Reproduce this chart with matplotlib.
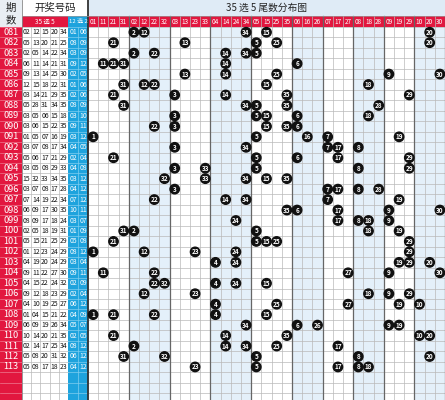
import matplotlib
matplotlib.use("Agg")
import matplotlib.pyplot as plt
from matplotlib.patches import Rectangle, Circle

plt.rcParams['font.family'] = ['Noto Sans CJK SC', 'DejaVu Sans']

# draw data
periods = ["081", "082", "083", "084", "085", "086", "087", "088", "089", "090",
           "091", "092", "093", "094", "095", "096", "097", "098", "099", "100",
           "101", "102", "103", "104", "105", "106", "107", "108", "109", "110",
           "111", "112", "113"]
front = [
    [2, 12, 15, 20, 34], [5, 13, 20, 21, 25], [2, 5, 14, 22, 34], [6, 11, 14, 21, 31],
    [9, 13, 14, 25, 30], [12, 15, 18, 22, 31], [3, 14, 21, 29, 35], [5, 28, 31, 34, 35],
    [3, 5, 6, 15, 18], [3, 6, 15, 22, 35], [1, 5, 7, 16, 19], [3, 7, 8, 17, 34],
    [5, 6, 17, 21, 29], [3, 5, 8, 29, 33], [15, 32, 33, 34, 35], [3, 7, 8, 17, 28],
    [7, 14, 19, 22, 34], [6, 9, 17, 30, 35], [8, 9, 17, 18, 24], [2, 5, 18, 19, 31],
    [5, 15, 21, 25, 29], [1, 12, 23, 24, 29], [4, 19, 20, 24, 29], [9, 11, 22, 27, 30],
    [4, 15, 22, 24, 32], [9, 12, 18, 23, 29], [4, 10, 19, 25, 27], [1, 4, 15, 21, 22],
    [6, 9, 19, 26, 34], [10, 14, 20, 21, 35], [2, 14, 17, 25, 34], [5, 8, 20, 31, 32],
    [5, 8, 17, 18, 23]]
back = [
    [1, 6], [8, 9], [3, 9], [9, 12], [2, 5], [1, 6], [2, 6], [8, 9], [3, 10], [9, 11],
    [3, 12], [4, 5], [2, 4], [4, 8], [3, 12], [4, 12], [7, 12], [10, 11], [3, 7], [1, 9],
    [5, 8], [8, 12], [3, 4], [9, 11], [2, 9], [2, 4], [6, 12], [4, 9], [5, 7], [2, 5],
    [8, 12], [6, 12], [4, 12]]
tails = [1, 2, 3, 4, 5, 6, 7, 8, 9, 0]

RED = "#e2173f"
BLUE = "#1ea3dd"
LBLUE = "#e4f0fa"
GRID = "#b9b9b9"
DARK = "#333333"

W, H = 445, 400
fig = plt.figure(figsize=(4.45, 4.0), dpi=100)
ax = fig.add_axes([0, 0, 1, 1])
ax.set_xlim(0, W)
ax.set_ylim(H, 0)
ax.set_axis_off()

# column layout
groups = [[n for n in range(1, 36) if n % 10 == t] for t in tails]
dist_cols = [n for g in groups for n in g]
x_per, x_front, x_back, x_dist = 0, 22, 68, 88
fw = (x_back - x_front) / 5
bw = (x_dist - x_back) / 2
dw = (W - x_dist) / len(dist_cols)
y_title, y_head, y_rows = 0, 16, 27
rh = 10.46
n_rows = len(periods) + 3
col_x = {n: x_dist + (i + 0.5) * dw for i, n in enumerate(dist_cols)}

# group backgrounds
i0 = 0
for gi, g in enumerate(groups):
    if gi % 2 == 1:
        ax.add_patch(Rectangle((x_dist + i0 * dw, y_rows), len(g) * dw, H - y_rows,
                               color=LBLUE, lw=0, zorder=0))
    i0 += len(g)

# left column backgrounds
ax.add_patch(Rectangle((x_per, y_rows), x_front - x_per, H - y_rows, color=RED, lw=0))
ax.add_patch(Rectangle((x_back, y_head), x_dist - x_back, H - y_head, color=BLUE, lw=0))
ax.add_patch(Rectangle((x_front, y_head), x_back - x_front, y_rows - y_head, color=RED, lw=0))
ax.add_patch(Rectangle((x_dist, y_head), W - x_dist, y_rows - y_head, color=RED, lw=0))
ax.add_patch(Rectangle((x_dist, y_title), W - x_dist, y_head - y_title, color="#dfebf6", lw=0))
ax.add_patch(Rectangle((x_per, 0), x_front - x_per, y_rows, color="#e9eef3", lw=0))

# grid lines
for r in range(n_rows + 1):
    y = y_rows + r * rh
    ax.plot([x_front, x_back], [y, y], color=GRID, lw=0.5, zorder=1)
    ax.plot([x_dist, W], [y, y], color=GRID, lw=0.5, zorder=1)
    ax.plot([x_back, x_dist], [y, y], color="#7fcdef", lw=0.5, zorder=1)
    ax.plot([x_per, x_front], [y, y], color="#f07b92", lw=0.5, zorder=1)
for k in range(1, 5):
    x = x_front + k * fw
    ax.plot([x, x], [y_rows, H], color=GRID, lw=0.5, zorder=1)
ax.plot([x_back + bw] * 2, [y_rows, H], color="#7fcdef", lw=0.5, zorder=1)
i0 = 0
for g in groups:
    for k in range(len(g)):
        x = x_dist + (i0 + k) * dw
        ax.plot([x, x], [y_head, H], color=GRID, lw=0.5, zorder=1)
    i0 += len(g)
    x = x_dist + i0 * dw
    ax.plot([x, x], [y_head, H], color="#666666", lw=0.9, zorder=2)
ax.plot([x_dist, x_dist], [0, H], color=DARK, lw=1.3, zorder=3)
ax.plot([x_front, x_front], [0, H], color="#888888", lw=0.6, zorder=3)
ax.plot([x_front, W], [y_head, y_head], color="#999999", lw=0.5, zorder=3)

# header text
ax.text((x_per + x_front) / 2, 8, "期", ha="center", va="center", fontsize=7.5, color="#222222")
ax.text((x_per + x_front) / 2, 20, "数", ha="center", va="center", fontsize=7.5, color="#222222")
ax.text((x_front + x_dist) / 2, 8, "开奖号码", ha="center", va="center", fontsize=7.5, color="#222222")
ax.text((x_front + x_back) / 2, 21.5, "35 选 5", ha="center", va="center", fontsize=4.6, color="white")
ax.text((x_back + x_dist) / 2, 21.5, "12 选 2", ha="center", va="center", fontsize=4.3, color="white")
ax.text((x_dist + W) / 2, 8, "35 选 5 尾数分布图", ha="center", va="center", fontsize=7, color="#222222")
for n in dist_cols:
    ax.text(col_x[n], 21.5, f"{n:02d}", ha="center", va="center", fontsize=4.6, color="white")

# rows
for r, (p, fr, bk) in enumerate(zip(periods, front, back)):
    yc = y_rows + (r + 0.5) * rh
    ax.text((x_per + x_front) / 2, yc, p, ha="center", va="center", fontsize=6.6, color="white")
    for k, n in enumerate(fr):
        ax.text(x_front + (k + 0.5) * fw, yc, f"{n:02d}", ha="center", va="center",
                fontsize=4.9, color="#111111")
    for k, n in enumerate(bk):
        ax.text(x_back + (k + 0.5) * bw, yc, f"{n:02d}", ha="center", va="center",
                fontsize=4.9, color="white")
    for n in fr:
        ax.add_patch(Circle((col_x[n], yc), 4.7, color="#111111", zorder=5))
        ax.text(col_x[n], yc, str(n), ha="center", va="center", fontsize=4.6,
                color="white", fontweight="bold", zorder=6)

fig.savefig("out.png", dpi=100)
